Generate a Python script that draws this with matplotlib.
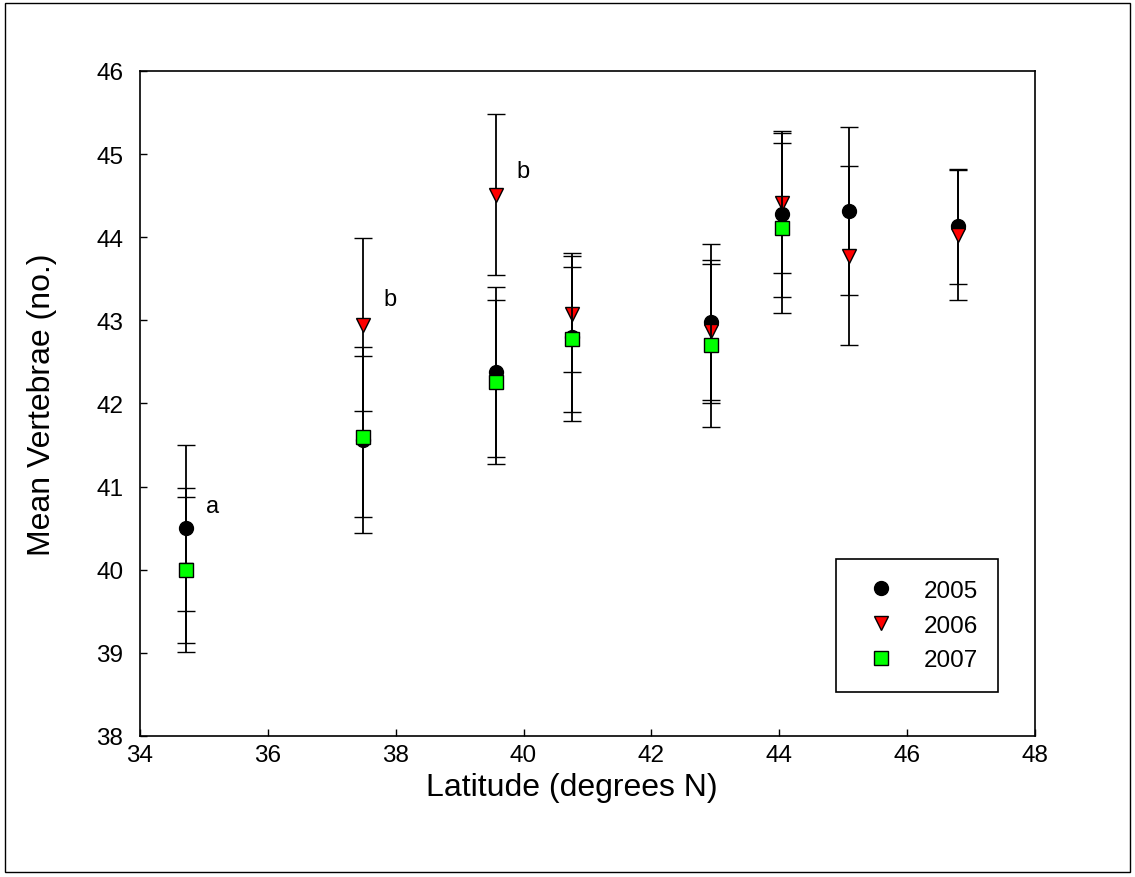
import matplotlib
matplotlib.use("Agg")
import matplotlib.pyplot as plt
from matplotlib.patches import Rectangle
from matplotlib.lines import Line2D

plt.rcParams['font.family'] = ['Liberation Sans', 'DejaVu Sans']

# latitude (degrees N) for each sampling site
lat_2005 = [34.72, 37.49, 39.57, 40.76, 42.93, 44.05, 45.09, 46.80]
mean_2005 = [40.50, 41.56, 42.38, 42.80, 42.98, 44.28, 44.32, 44.13]
err_2005 = [1.00, 1.12, 1.02, 1.01, 0.94, 1.00, 1.01, 0.69]

lat_2006 = [34.72, 37.49, 39.57, 40.76, 42.93, 44.05, 45.09, 46.80]
mean_2006 = [40.00, 42.95, 44.51, 43.08, 42.87, 44.41, 43.78, 44.03]
err_2006 = [0.985, 1.04, 0.97, 0.70, 0.86, 0.84, 1.08, 0.78]

lat_2007 = [34.72, 37.49, 39.57, 40.76, 42.93, 44.05]
mean_2007 = [40.00, 41.60, 42.26, 42.77, 42.70, 44.11]
err_2007 = [0.88, 0.97, 0.99, 0.87, 0.98, 1.02]

letters = ['a', 'b', 'b']
letter_x = [35.14, 37.91, 39.99]
letter_y = [40.77, 43.26, 44.80]

fig = plt.figure(figsize=(11.35, 8.78), dpi=100)
ax = fig.add_axes([0.1233, 0.1606, 0.7886, 0.7574])

common = dict(linestyle='none', ecolor='black', elinewidth=1.3, capsize=6.5,
              capthick=1.3, markeredgecolor='black', markeredgewidth=1.0)
ax.errorbar(lat_2005, mean_2005, yerr=err_2005, fmt='o', color='black',
            markersize=10, zorder=3, **common)
ax.errorbar(lat_2006, mean_2006, yerr=err_2006, fmt='v', color='#ff0000',
            markersize=10, zorder=4, **common)
ax.errorbar(lat_2007, mean_2007, yerr=err_2007, fmt='s', color='#00ff00',
            markersize=10, zorder=5, **common)

for t, x, y in zip(letters, letter_x, letter_y):
    ax.text(x, y, t, fontsize=17, ha='center', va='center')

ax.set_xlim(34, 48)
ax.set_ylim(38, 46)
ax.set_xticks(range(34, 49, 2))
ax.set_yticks(range(38, 47))
ax.tick_params(direction='in', length=5, width=1, labelsize=17.5)
ax.tick_params(axis='x', pad=6)
ax.tick_params(axis='y', pad=12)
for s in ax.spines.values():
    s.set_linewidth(1.2)

ax.set_xlabel('Latitude (degrees N)', fontsize=23)
ax.set_ylabel('Mean Vertebrae (no.)', fontsize=23)
ax.xaxis.set_label_coords(0.4827, -0.054)
ax.yaxis.set_label_coords(-0.093, 0.5)

handles = [
    Line2D([], [], linestyle='none', marker='o', markersize=10, color='black',
           markeredgecolor='black', label='2005'),
    Line2D([], [], linestyle='none', marker='v', markersize=10, color='#ff0000',
           markeredgecolor='black', label='2006'),
    Line2D([], [], linestyle='none', marker='s', markersize=10, color='#00ff00',
           markeredgecolor='black', label='2007'),
]
leg = ax.legend(handles=handles, loc='lower left', bbox_to_anchor=(0.7777, 0.0662),
                fontsize=17.5, frameon=True, fancybox=False, edgecolor='black',
                framealpha=1, borderpad=0.85, handlelength=2.0, handletextpad=0.75,
                labelspacing=0.52, borderaxespad=0)
leg.get_frame().set_linewidth(1.2)

fig.patches.append(Rectangle((0.004, 0.006), 0.992, 0.989, transform=fig.transFigure,
                             fill=False, edgecolor='black', linewidth=1.0))

fig.savefig('out.png', dpi=100)
